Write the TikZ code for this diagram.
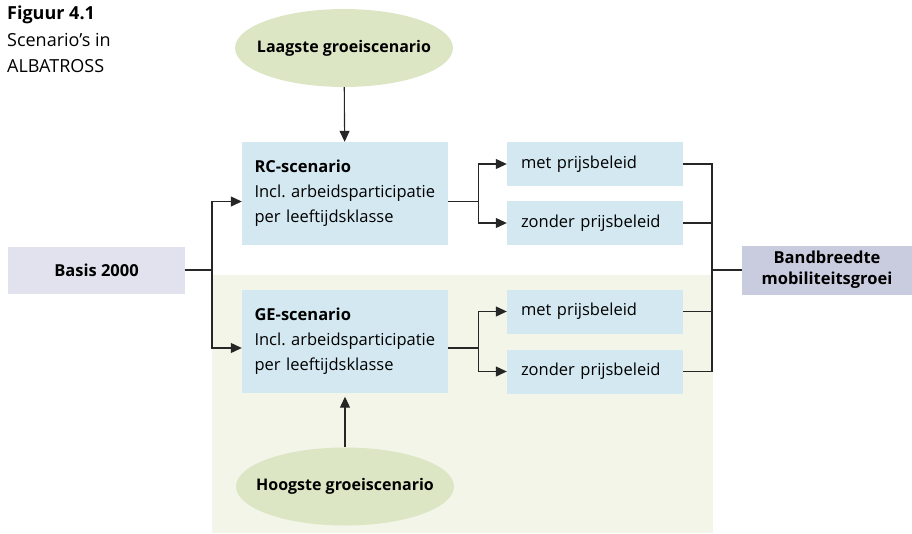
\documentclass[tikz,border=0pt]{standalone}
\usepackage{fontspec}
\setmainfont{Open Sans}
\usepackage{tikz}
\usetikzlibrary{
  arrows.meta,
  positioning,
  shapes.geometric,
  backgrounds
}
\definecolor{scenblue}{RGB}{211, 232, 240}
\definecolor{ellgreen}{RGB}{221, 230, 196}
\definecolor{bggreen}{RGB}{242, 245, 232}
\definecolor{basislila}{RGB}{225, 226, 238}
\definecolor{bandlila}{RGB}{201, 203, 222}

\tikzset{
  scen/.style={fill=scenblue, minimum width=206pt, minimum height=103pt,
               text width=181pt, align=left, inner xsep=12.5pt, inner ysep=0pt},
  optie/.style={fill=scenblue, minimum width=176pt, minimum height=44pt,
                text width=148pt, align=left, inner xsep=14pt, inner ysep=0pt},
  ellip/.style={ellipse, fill=ellgreen, minimum width=218pt, minimum height=78pt,
                inner xsep=-20pt, inner ysep=0pt,
                font=\fontsize{16}{20}\selectfont\bfseries},
  lijn/.style={draw=black!85, line width=1.1pt},
  pijl/.style={lijn, -{Triangle[length=11pt,width=10pt]}}
}

\begin{document}
\frenchspacing
\begin{tikzpicture}[x=1pt, y=-1pt, font=\fontsize{16.5}{25}\selectfont]
\useasboundingbox (0,0) rectangle (912,533);
% groene achtergrond voor het GE-deel
\fill[bggreen] (212,275) rectangle (713,533);

\node[anchor=north west, inner sep=0pt, align=left,
      font=\fontsize{18}{26.5}\selectfont] (capt) at (7,6)
  {\textbf{Figuur 4.1}\\Scenario's in\\ALBATROSS};

\node[ellip] (laag) at (344,48) {Laagste groeiscenario};
\node[scen] (rc) at (345,193.5)
  {\textbf{RC-scenario}\\Incl. arbeidsparticipatie\\per leeftijdsklasse};
\node[scen] (ge) at (345,341)
  {\textbf{GE-scenario}\\Incl. arbeidsparticipatie\\per leeftijdsklasse};
\node[ellip] (hoog) at (345,486.5) {Hoogste groeiscenario};

\node[fill=basislila, minimum width=177pt, minimum height=47pt,
      font=\fontsize{16.5}{20}\selectfont\bfseries] (basis) at (96.5,270) {Basis 2000};
\node[fill=bandlila, minimum width=170pt, minimum height=49pt, align=center,
      inner ysep=0pt, font=\fontsize{16.5}{21}\selectfont\bfseries] (band) at (827,270)
  {Bandbreedte\\mobiliteitsgroei};

\node[optie] (met1) at (595,164) {met prijsbeleid};
\node[optie] (zon1) at (595,223) {zonder prijsbeleid};
\node[optie] (met2) at (595,311.5) {met prijsbeleid};
\node[optie] (zon2) at (595,371.5) {zonder prijsbeleid};

% verbindingen
\draw[pijl] (laag) -- (rc);
\draw[pijl] (hoog) -- ([yshift=-4pt]ge.south);

\coordinate (splitb) at (212,270);
\draw[lijn] (basis) -- (splitb);
\draw[pijl] (splitb) |- ([yshift=-8pt]rc.west);
\draw[pijl] (splitb) |- ([yshift=-7pt]ge.west);

\draw[lijn] ([yshift=-8pt]rc.east) -- ++(30,0) coordinate (splitrc);
\draw[pijl] (splitrc) |- (met1.west);
\draw[pijl] (splitrc) |- (zon1.west);
\draw[lijn] ([yshift=-7pt]ge.east) -- ++(30,0) coordinate (splitge);
\draw[pijl] (splitge) |- (met2.west);
\draw[pijl] (splitge) |- (zon2.west);

\coordinate (samen) at (712,270);
\draw[lijn] (met1.east) -| (samen);
\draw[lijn] (zon1.east) -| (samen);
\draw[lijn] (met2.east) -| (samen);
\draw[lijn] (zon2.east) -| (samen);
\draw[lijn] (samen) -- (band.west);
\end{tikzpicture}
\end{document}
